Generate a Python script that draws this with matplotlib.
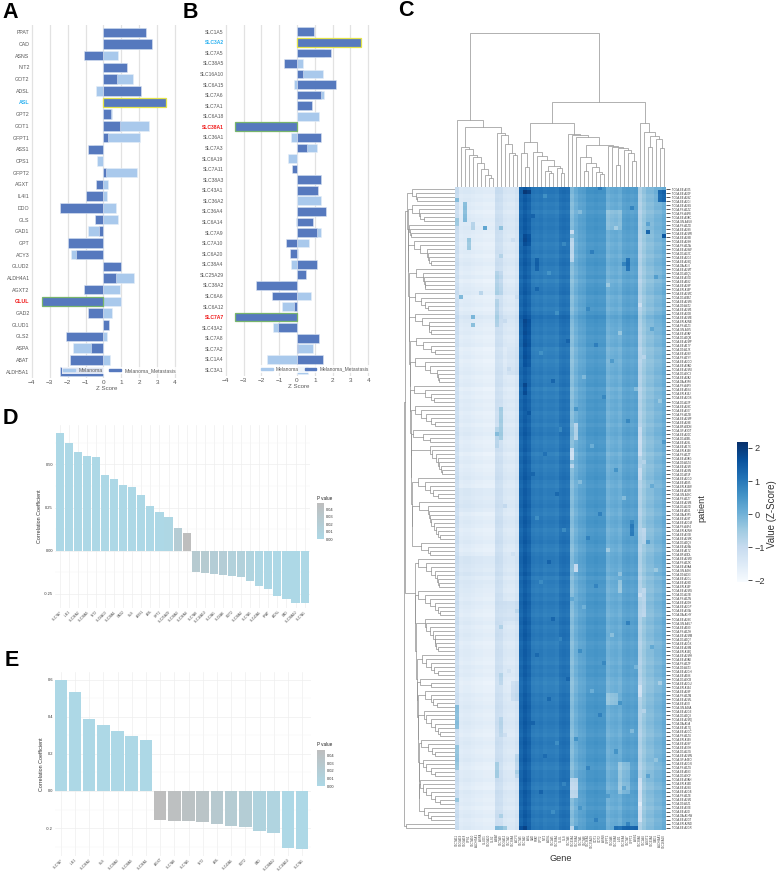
import numpy as np
import matplotlib
matplotlib.use('Agg')
import matplotlib.pyplot as plt
from matplotlib.patches import Patch
from matplotlib.colors import LinearSegmentedColormap, Normalize
from matplotlib.cm import ScalarMappable

plt.rcParams['font.family'] = ['Liberation Sans', 'DejaVu Sans']

W, H = 777, 873

# ---------- Panel A ----------
a_genes = ['PPAT','CAD','ASNS','NIT2','GOT2','ADSL','ASL','GPT2','GOT1','GFPT1','ASS1','CPS1','GFPT2','AGXT','IL4I1',
           'DDO','GLS','GAD1','GPT','ACY3','GLUD2','ALDH4A1','AGXT2','GLUL','GAD2','GLUD1','GLS2','ASPA','ABAT','ALDH5A1']
a_mel = [2.3,2.65,.8,1.2,1.65,-.4,3.0,.47,2.55,2.03,-.5,-.37,1.85,.25,.2,.7,.8,-.85,-1.97,-1.8,.5,1.72,.93,1.0,.47,.1,.2,-1.72,.37,-2.2]
a_met = [2.4,2.72,-1.1,1.33,.75,2.08,3.5,.42,.9,.25,-.87,0,.13,-.4,-1.0,-2.43,-.45,-.22,-1.95,-1.53,.98,.7,-1.08,-3.45,-.87,.32,-2.08,-.7,-1.88,-2.4]
a_blue, a_red = ['ASL'], ['GLUL']

# ---------- Panel B ----------
b_genes = ['SLC1A5','SLC3A2','SLC7A5','SLC38A5','SLC16A10','SLC6A15','SLC7A6','SLC7A1','SLC6A18','SLC38A1','SLC36A1','SLC7A3',
           'SLC6A19','SLC7A11','SLC38A3','SLC43A1','SLC36A2','SLC36A4','SLC6A14','SLC7A9','SLC7A10','SLC6A20','SLC38A4','SLC25A29',
           'SLC38A2','SLC6A6','SLC6A12','SLC7A7','SLC43A2','SLC7A8','SLC7A2','SLC1A4','SLC3A1']
b_mel = [.9,3.0,1.5,.33,1.47,-.15,1.52,.7,1.25,-1,-.33,1.12,-.5,-.1,1.37,1.0,1.33,1.3,-.08,1.35,.65,.07,-.33,.4,-.9,.78,-.85,-1,-1.35,.9,.92,-1.7,.6]
b_met = [.97,3.6,1.9,-.75,.33,2.2,1.33,.85,.02,-3.5,1.33,.57,0,-.27,1.33,1.18,0,1.63,.9,1.13,-.62,-.38,1.13,.52,-2.3,-1.42,-.17,-3.45,-1.07,1.25,.03,1.48,0]
b_blue, b_red = ['SLC3A2'], ['SLC38A1','SLC7A7']
yellow_boxes = ['ASL','SLC3A2']
green_boxes = ['GLUL','SLC38A1','SLC7A7']

# ---------- Panel D ----------
d_genes = ['SLC7A7','IL4I1','SLC36A2','SLC38A5','NIT2','SLC6A13','SLC38A1','GAD2','GLS','ASS1','ASL','GPT2','SLC25A29','SLC38A3','SLC36A4',
           'SLC7A8','SLC16A10','SLC3A1','SLC6A6','GOT2','SLC38A2','SLC7A5','SLC43A1','PPAT','ADSL','CAD','SLC38A10','SLC7A1']
d_r = [.681,.624,.571,.55,.544,.438,.413,.38,.371,.322,.259,.222,.197,.131,.102,
       -.124,-.127,-.137,-.139,-.149,-.151,-.176,-.205,-.222,-.261,-.28,-.301,-.301]
d_p = [0,0,0,0,0,0,0,0,0,0,0,0,.002,.022,.048,.027,.025,.02,.02,.014,.013,.008,.002,.001,0,0,0,0]

# ---------- Panel E ----------
e_genes = ['SLC7A7','IL4I1','SLC36A2','GLS','SLC38A3','SLC38A5','SLC36A1','AGXT','SLC7A8','SLC7A5','NIT2','ASL','SLC43A1','GOT2','CAD','SLC38A10','SLC16A10','SLC7A1']
e_r = [.6,.533,.388,.354,.322,.298,.275,-.156,-.162,-.162,-.165,-.176,-.189,-.192,-.217,-.228,-.305,-.314]
e_p = [0,0,0,0,0,0,0,.047,.043,.04,.036,.027,.022,.02,.009,.007,0,0]

# ---------- Panel C ----------
col_mean = [-1.15,-1.6,-1.55,-1.55,-1.6,-1.65,-1.65,-1.7,-1.7,-1.7,-1.15,-1.2,-1.45,-1.5,-1.5,-1.35,
            1.25,1.45,1.3,.95,.9,.95,.85,.9,.9,.85,1.05,1.1,1.05,-.25,0,.2,.25,.45,.45,.5,.45,.45,
            -.05,.05,.1,0,.25,.3,.25,.3,-.75,-.45,-.25,-.25,-.1,-.1,.05]
row_offset = [.1,.15,.05,.1,0,.05,-.05,.05,.1,.05,.1,.05,0,.05,-.05,0,.05,-.05,.05,.1,
              0,-.05,.05,-.1,0,.05,.1,-.05,0,.05,-.05,.05,.2,.1,.05,0,.05,-.05,0,.05,
              -.1,-.05,0,-.1,-.05,0,.05,-.05,0,.05,-.1,0,-.05,.05,0,.05,-.05,0,.05,-.05,
              .05,.1,0,-.05,0,.05,-.1,0,.05,-.05,0,.05,.1,0,-.05,.05,.05,0,.05,.1,
              0,-.05,.05,.1,.05,-.05,0,.05,.1,0,-.05,.05,.1,.1,.05,0,.1,-.05,.05,0,
              -.05,.05,0,.1,.05,0,-.05,.05,.1,0,.05,.1,.05,-.05,0,.05,.05,0,-.05,.05,
              0,.05,-.05,-.1,-.05,-.05,.05,0,.05,.1,.05,0,.05,.1,.05,0,-.05,.05,.1,.05,
              0,.05,.1,0,-.05,.05,.05,.1,0,-.05,.1,.05,0,.05,-.05,.05,.1,0,.05,.1]
# (first row, last row, first col, last col, change from the column level) for stretches that stand out
cell_runs = [(3,3,0,0,.85),(8,9,0,0,.6),(4,8,2,2,1.3),(13,15,3,3,1.1),(10,10,7,7,1.8),(9,10,4,4,.75),(32,32,4,4,1.3),(34,34,4,4,1.3),
             (27,27,1,1,1.5),(26,26,6,6,.7),(10,10,11,11,.8),(11,11,48,48,1.5),(12,12,52,52,1.5),(1,3,51,52,1.2),(1,1,17,18,.45),
             (18,20,20,20,.45),(18,20,43,43,.75),(11,11,29,29,-.85),(13,18,29,29,-.6),(65,67,29,29,-.85),(69,69,29,29,-.5),(59,62,30,30,-.75),
             (94,95,30,30,-1.0),(129,134,0,0,.85),(139,144,0,0,.75),(152,152,0,0,.75),(147,151,29,29,-.7),(147,151,30,30,-.9),(124,126,46,46,-.45),
             (147,157,46,46,-.45),(159,159,40,45,.95),(159,159,10,12,.9),(159,159,29,29,-.7),(159,159,30,30,.4),(159,159,16,17,.3),
             (75,80,1,9,.12),(92,100,1,9,.14),(28,34,10,10,.4),(21,26,10,10,.45),(21,26,11,11,.3),(55,62,11,11,.65),(60,64,10,10,.35),(40,46,13,15,.2),
             (103,107,12,15,.2),(132,136,11,11,.35),(143,146,10,10,.6),(141,146,15,15,.45),(123,127,14,15,.4),(121,123,11,11,.4),
             (85,88,47,47,-.4),(100,106,47,47,-.4),(60,66,46,46,-.3),(70,72,46,46,-.3),(12,14,17,18,.3),(33,44,17,18,.25),(49,51,17,17,.3),
             (84,86,44,44,.7),(126,128,38,40,-.4),(143,150,41,43,-.45),(96,100,41,41,-.4),(6,10,38,41,-.3)]
# single cells that are visibly darker or paler than their neighbours
mottle_rows = [0,2,5,6,7,9,10,13,14,16,17,19,21,22,24,25,27,29,30,31,33,35,36,38,39,41,42,43,45,47,48,50,52,53,55,56,58,60,61,63,64,66,68,70,71,73,74,76,77,79,
               81,82,83,85,87,88,90,91,93,95,97,98,99,101,102,104,105,107,108,109,111,112,114,115,116,118,119,120,122,123,125,127,128,130,131,133,135,136,137,138,
               140,141,142,144,145,146,148,149,150,151,153,154,155,156,157,158]
mottle_cols = [36,22,44,31,19,48,40,14,27,34,11,42,23,50,38,20,15,46,33,25,12,49,41,28,35,21,47,39,13,32,24,45,37,51,30,18,43,26,10,52,34,22,47,40,19,31,49,25,42,12,
               36,20,44,27,33,48,38,14,23,50,41,21,35,46,29,32,15,24,43,11,39,26,49,31,20,37,45,13,28,51,34,23,41,47,36,19,44,12,30,25,
               40,22,50,33,15,48,27,42,21,38,46,31,24,11,35,43]
mottle_delta = [.4,-.3,.5,-.35,.35,.45,-.45,.3,-.3,.4,.5,.45,-.3,.4,-.4,.35,.3,-.4,.35,-.3,.3,.45,-.45,.3,.35,-.3,-.35,.45,.25,-.35,.4,-.4,.35,-.35,.45,.3,.4,-.35,.5,.4,
                -.4,.35,-.35,.45,.3,-.4,.4,.35,-.45,.4,.45,-.3,.4,-.35,.35,.5,-.4,.25,.35,-.35,.5,-.3,.3,-.4,.4,-.3,.3,.35,.45,.5,-.4,-.3,.4,.4,.3,.35,-.4,.25,.3,-.4,
                -.35,.35,.5,-.35,.4,.3,-.4,.35,.5,-.3,.45,.3,-.35,.4,.25,.45,-.3,.45,.3,.4,-.4,.35,-.3,.45,.35,.45]
top_tree_spec = (460,
    (200, 0, (180,
        (120,1,(112,2,(95,3,(88,4,(72,5,(52,6,(35,7,(25,8,9)))))))),
        (162,10,(155,11,(127,12,(100,13,(95,14,15)))))
    )),
    (255,
        (190,
            (135,(102,16,(60,17,18)),
                 (104,19,(92,20,(80,21,(62,(48,22,(40,23,24)),(55,25,(42,26,27))))))),
            (157,28,(154,29,(150,30,(125,
                (88,31,(70,(48,32,33),(60,34,(45,35,(38,36,37))))),
                (122,38,(120,39,(116,(65,40,41),(110,42,(100,43,(78,44,45)))))))))) ),
        (192,46,(165,47,(152,(118,48,49),(142,50,(117,51,52)))))
    ))
row_groups_upper = [[128,116,113],[128,108,103,93],[136,134,132],[123,103,83,81,78,70],[115,95,92,90,88],[118,100,88,80],
                    [120,98,78,76,70],[116,95,72,60],[118,90,75,53,50,48],[122,90,70,62],[120,100,85,70,60],[125,95,75],
                    [75,68,55,50,48,40,38],[110,90,75,65,50],[108,80,78,75,70,62,55,50,45],[100,80,75]]
row_spine_upper = [142,141,140,139,138,137,136,135,134,133,132,131,130,129,128]
row_groups_lower = [[110,85,70,60,52,50,48],[110,90,75,60,50,45],[90,85,75,65,60,58,55,50],[98,85,70,62,50],[105,70],[88,70,65,52],
                    [92,85,70,60,50,45],[100,80,68,60],[95,85,70,60],[105,95,85,70,60,45],[93,80,72]]
row_spine_lower = [120,118,116,114,112,110,109,108,107,106]
row_root = [153,150,145]
gene_labels = ['SLC7A11','SLC6A19','SLC6A18','CPS1','SLC7A10','ALDH5A1','ASPA','GLUD1','SLC6A20','GLS2','ABAT','SLC7A9','SLC6A12','SLC7A2','SLC38A4','ACY3',
               'SLC7A5','SLC3A2','ASL','CAD','PPAT','GPT2','NIT2','ADSL','SLC1A5','SLC38A1','GLUL','GLS','SLC7A6','SLC43A1','SLC38A2','SLC7A1','SLC7A8',
               'SLC36A1','SLC25A29','GOT1','GOT2','ASNS','GFPT1','SLC6A6','SLC38A3','IL4I1','SLC36A4','SLC7A7','GFPT2','ASS1','SLC38A5','SLC1A4','AGXT2',
               'SLC43A2','GAD1','ALDH4A1','SLC16A10']
patient_ids = ['EE-A3J5','EE-A20F','EE-A29Z','EE-A2GI','EE-A29G','FS-A1ZZ','FS-A4FE','EE-A3AC','GN-A4U8','FS-A1ZD','EE-A29S','EE-A2MR','EE-A29B','EE-A29H','FS-A1ZA','EE-A29W',
               'D3-A2JC','EE-A2GJ','EE-A29Q','DA-A1I0','EE-A2MT','D3-A1Q5','EE-A3JD','EE-A182','EE-A29P','ER-A19P','EE-A2MC','D3-A3BZ','EE-A2MS','D9-A4Z2','EE-A2M5','EE-A20B',
               'EE-A2ME','ER-A2NE','FS-A1Z3','GN-A265','EE-A3AF','D3-A1QB','EE-A2MP','EE-A17Y','D9-A1JX','EE-A29V','FS-A1YY','EE-A2GO','EE-A3AD','EE-A2MU','D3-A3C3','EE-A2A2',
               'DA-A3F8','FS-A4F9','EE-A184','ER-A19J','EE-A2GS','D3-A2JF','EE-A29C','EE-A3J7','FS-A1ZB','EE-A2MF','EE-A29E','BF-A3DN','GF-A3OT','EE-A20C','D3-A3BL','EE-A29L',
               'EE-A17X','ER-A198','FS-A1ZT','EE-A3AG','D9-A3Z4','EE-A2MI','EE-A29N','D3-A51F','EE-A2GD','EE-A185','ER-A19W','EE-A29R','GN-A26C','FS-A1Z7','EE-A2M6','D3-A2JD',
               'EE-A181','DA-A3F5','EE-A29T','EE-A2GM','FS-A4F4','ER-A2NH','EE-A3JB','EE-A2MK','D3-A1Q9','EE-A29A','EE-A17Z','BF-A3DL','EE-A2MD','FS-A1ZK','EE-A3AA','GN-A266',
               'D9-A1X3','EE-A2GL','EE-A29D','ER-A19F','EE-A2MG','D3-A2JB','FS-A1ZN','EE-A20H','EE-A2GP','EE-A3JA','DA-A1HY','EE-A29X','GN-A4U7','EE-A180','FS-A1ZH','EE-A2MM',
               'D3-A1Q7','EE-A2GK','EE-A29M','ER-A19Q','EE-A2MH','EE-A3AE','FS-A1ZF','D9-A4Z3','EE-A2GH','EE-A186','D3-A3CB','EE-A2GU','ER-A194','EE-A29F','FS-A1ZM','EE-A2ML',
               'EE-A3JI','GN-A26A','EE-A2GE','D3-A1Q3','EE-A2MQ','DA-A1IA','EE-A17Q','EE-A2GC','FS-A1ZU','ER-A19S','EE-A29Y','EE-A3JH','D3-A2JG','EE-A2MN','GF-A4EO','EE-A2GN',
               'FS-A1ZG','EE-A183','D3-A3CF','EE-A3AH','ER-A19D','EE-A29U','EE-A2GB','FS-A1ZE','EE-A2MJ','D9-A3Z1','EE-A3JE','EE-A20I','DA-A1HW','EE-A2GT','ER-A2ND','EE-A2GR']

LIGHT, DARK = '#A9C9EC', '#5679BE'
GREY = '#595959'


def ax_px(l, t, r, b, **kw):
    return fig.add_axes([l / W, 1 - b / H, (r - l) / W, (b - t) / H], **kw)


def pair_panel(ax, genes, mel, met, blue, red, fs, legend_xy, pad):
    y = np.arange(len(genes))
    ax.barh(y, mel, height=.82, color=LIGHT, edgecolor='#E6EEF8', linewidth=.4, zorder=2)
    ax.barh(y, met, height=.82, color=DARK, edgecolor='#DDE6F3', linewidth=.4, zorder=3)
    for i, g in enumerate(genes):
        if g in yellow_boxes:
            ax.barh(i, met[i], height=.82, facecolor='none', edgecolor='#E3E34A', linewidth=.9, zorder=4)
        if g in green_boxes:
            ax.barh(i, met[i], height=.82, facecolor='none', edgecolor='#78B56C', linewidth=.9, zorder=4)
    ax.set_yticks(y, genes, fontsize=fs, color=GREY)
    for lab, g in zip(ax.get_yticklabels(), genes):
        if g in blue:
            lab.set_color('#29B0F0'); lab.set_fontweight('bold')
        if g in red:
            lab.set_color('#F01818'); lab.set_fontweight('bold')
    ax.set_xticks(range(-4, 5))
    ax.tick_params(axis='x', labelsize=4.6, labelcolor=GREY, length=0, pad=1.5)
    ax.tick_params(axis='y', length=0, pad=pad)
    ax.grid(axis='x', color='#E2E2E2', linewidth=.9, zorder=0)
    ax.set_axisbelow(True)
    for s in ax.spines.values():
        s.set_visible(False)
    ax.set_xlabel('Z Score', fontsize=4.4, color=GREY, labelpad=.8)
    ax.legend(handles=[Patch(color=LIGHT, label='Melanoma'), Patch(color=DARK, label='Melanoma_Metastasis')],
              ncol=2, loc='center', bbox_to_anchor=legend_xy, bbox_transform=fig.transFigure, fontsize=fs - .1, frameon=True,
              framealpha=.82, edgecolor='none', handlelength=2.4, handleheight=.35, columnspacing=1.2, handletextpad=.6,
              borderpad=.25, labelcolor=GREY, fancybox=False).set_zorder(6)


fig = plt.figure(figsize=(W / 100, H / 100), dpi=100, facecolor='white')

# A
ax = ax_px(31, 25, 182, 378)
pair_panel(ax, a_genes, a_mel, a_met, a_blue, a_red, 3.8, (119.5 / W, 1 - 370.5 / H), 1)
ax.set_xlim((31 - 103.4) / 17.9, (182 - 103.4) / 17.9)
ax.set_ylim((378 - 32.3) / 11.7, (25 - 32.3) / 11.7)
# B
ax = ax_px(225, 25, 372, 376)
pair_panel(ax, b_genes, b_mel, b_met, b_blue, b_red, 3.6, (315 / W, 1 - 369 / H), 1)
ax.set_xlim((225 - 297) / 17.83, (372 - 297) / 17.83)
ax.set_ylim((376 - 31.7) / 10.57, (25 - 31.7) / 10.57)


def corr_panel(box, genes, r, p, x0, dx, y0, scale, yticks, fmt, minor, vmax, cbox, cticks_title_y):
    l, t, rr, b = box
    ax = ax_px(l, t, rr, b)
    cmap = LinearSegmentedColormap.from_list('pv', ['#ADD8E6', '#BEBEBE'])
    norm = Normalize(0, vmax)
    x = np.arange(len(genes))
    ax.bar(x, r, width=.9, color=cmap(norm(p)), zorder=3)
    ax.set_xlim((l - x0) / dx, (rr - x0) / dx)
    ax.set_ylim((y0 - b) / scale, (y0 - t) / scale)
    ax.set_xticks(x, genes, rotation=45, ha='right', rotation_mode='anchor', fontsize=2.3, color='#444444')
    ax.set_yticks(yticks, [fmt % v for v in yticks], fontsize=2.9, color='#333333')
    ax.set_yticks(minor, minor=True)
    ax.tick_params(which='both', length=0, pad=1.5)
    ax.grid(which='major', color='#EDEDED', linewidth=.45, zorder=0)
    ax.grid(which='minor', axis='y', color='#F4F4F4', linewidth=.35, zorder=0)
    for s in ax.spines.values():
        s.set_visible(False)
    ax.set_ylabel('Correlation Coefficient', fontsize=3.9, color='#333333', labelpad=1.5)
    cax = ax_px(*cbox)
    cb = fig.colorbar(ScalarMappable(norm=norm, cmap=cmap), cax=cax, ticks=[0, .01, .02, .03, .04])
    cb.outline.set_visible(False)
    cb.ax.tick_params(length=0, labelsize=2.9, pad=1.5, labelcolor='#333333')
    cb.ax.set_yticklabels(['%.2f' % v for v in [0, .01, .02, .03, .04]])
    fig.text(cbox[0] / W, 1 - cticks_title_y / H, 'P value', fontsize=3.3, color='#222222', va='center', ha='left')


corr_panel((55, 425, 310, 608), d_genes, np.array(d_r), np.array(d_p), 59.7, 9.07, 550.7, 172.6,
           [-.25, 0, .25, .5], '%.2f', [-.125, .125, .375, .625], .0485, (317, 503, 323.7, 539.3), 499)
corr_panel((55, 672, 311, 856), e_genes, np.array(e_r), np.array(e_p), 60.7, 14.2, 791, 185.6,
           [-.2, 0, .2, .4, .6], '%.1f', [-.3, -.1, .1, .3, .5], .047, (317.3, 750, 324.7, 786), 745)

# C heatmap
Z = np.array(col_mean)[None, :] + np.array(row_offset)[:, None]
for r0, r1, c0, c1, v in cell_runs:
    Z[r0:r1 + 1, c0:c1 + 1] += v
for r, c, d in zip(mottle_rows, mottle_cols, mottle_delta):
    Z[r, c] += d
ax = ax_px(455, 187, 666, 830)
im = ax.imshow(Z, cmap='Blues', vmin=-2.05, vmax=2.18, aspect='auto', interpolation='nearest')
ax.set_xticks(np.arange(53), gene_labels, rotation=90, fontsize=2.1, color='#444444')
ax.set_yticks(np.arange(160), ['TCGA-' + p for p in patient_ids], fontsize=1.9, color='#333333')
ax.yaxis.tick_right()
ax.tick_params(axis='y', length=3, width=.5, pad=1.2, color='#111111')
ax.tick_params(axis='x', length=0, pad=3)
for s in ax.spines.values():
    s.set_visible(False)
ax.set_xlabel('Gene', fontsize=6.6, color='#333333', labelpad=4)
ax.yaxis.set_label_position('right')
ax.set_ylabel('patient', fontsize=6.6, color='#333333', labelpad=4, rotation=90)

cax = ax_px(737, 442, 748, 582)
cb = fig.colorbar(im, cax=cax, ticks=[-2, -1, 0, 1, 2])
cb.outline.set_visible(False)
cb.ax.tick_params(length=3, width=.5, labelsize=6.6, pad=1.5, labelcolor='#333333')
cb.ax.set_yticklabels(['\u22122', '\u22121', '0', '1', '2'])
fig.text(772 / W, 1 - 514 / H, 'Value (Z-Score)', rotation=90, fontsize=7, color='#333333', va='center', ha='center')


def draw_tree(node, ax, horizontal, counter=None):
    """node is a leaf index / None or (height, child, child); returns (pos, height)."""
    if not isinstance(node, tuple):
        if node is None:
            pos = counter[0]
            counter[0] += 1
        else:
            pos = node
        return pos, 0
    h, a, b = node
    pa, ha = draw_tree(a, ax, horizontal, counter)
    pb, hb = draw_tree(b, ax, horizontal, counter)
    if horizontal:
        ax.plot([ha, h, h, hb], [pa, pa, pb, pb], color='#8F8F8F', lw=.5, solid_joinstyle='miter')
    else:
        ax.plot([pa, pa, pb, pb], [ha, h, h, hb], color='#A3A3A3', lw=.6, solid_joinstyle='miter')
    return (pa + pb) / 2, h


# top dendrogram: heights are thirds of a pixel above the heat map
ax = ax_px(455, 33, 666, 186.5)
draw_tree(top_tree_spec, ax, False)
ax.set_xlim(-.5, 52.5)
ax.set_ylim(0, 461)
ax.axis('off')


def comb(heights):
    node = None
    for h in reversed(heights):
        node = (h, None, node)
    return node


def spine(groups, heights):
    node = comb(groups[-1])
    for g, h in zip(groups[-2::-1], heights[::-1]):
        node = (h, comb(g), node)
    return node


row_tree = (row_root[0], (row_root[1], spine(row_groups_upper, row_spine_upper), spine(row_groups_lower, row_spine_lower)),
            comb([row_root[2]]))
ax = ax_px(395 + 25 / 3, 187, 454.5, 830)
counter = [0]
draw_tree(row_tree, ax, True, counter)
ax.set_xlim(154, 0)
ax.set_ylim(159.5, -.5)
ax.axis('off')

# Panel letters
for s, x, y in [('A', 2, 13), ('B', 183, 13), ('C', 398, 11), ('D', 3, 418), ('E', 5, 660)]:
    fig.text(x / W, 1 - y / H, s, fontsize=15.5, fontweight='bold', color='black', va='center', ha='left')

fig.savefig('out.png', dpi=100)
